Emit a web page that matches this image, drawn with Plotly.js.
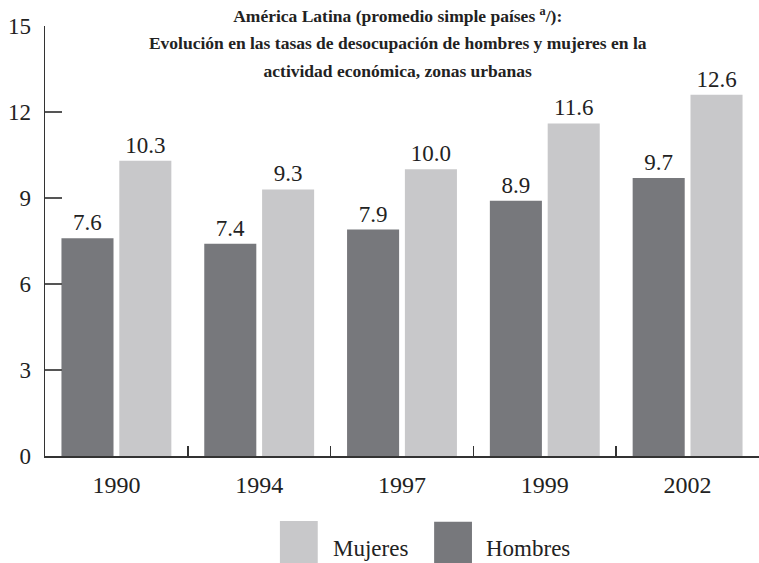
<!DOCTYPE html>
<html><head><meta charset="utf-8">
<script src="https://cdn.plot.ly/plotly-3.0.1.min.js"></script>
<style>body{margin:0;background:#fff}</style>
</head><body>
<div id="chart" style="width:759px;height:563px"></div>
<script>
const years = ["1990", "1994", "1997", "1999", "2002"];
const hombres = [7.6, 7.4, 7.9, 8.9, 9.7];
const mujeres = [10.3, 9.3, 10.0, 11.6, 12.6];
const yTicks = [0, 3, 6, 9, 12, 15];
const titleLines = [
  "América Latina (promedio simple países <sup>a</sup>/):",
  "Evolución en las tasas de desocupación de hombres y mujeres en la",
  "actividad económica, zonas urbanas"
];

const serif = "Liberation Serif";
const cH = "#77787c", cM = "#c8c8ca";

const traces = [
  {type: "bar", name: "Hombres", x: years, y: hombres, marker: {color: cH},
   text: hombres.map(v => v.toFixed(1)), textposition: "outside", cliponaxis: false,
   textfont: {family: serif, size: 23, color: "#222"}, showlegend: false},
  {type: "bar", name: "Mujeres", x: years, y: mujeres, marker: {color: cM},
   text: mujeres.map(v => v.toFixed(1)), textposition: "outside", cliponaxis: false,
   textfont: {family: serif, size: 23, color: "#222"}, showlegend: false}
];

const titleHtml = titleLines.map(l => '<span style="font-size:17.5px"><b>' + l + '</b></span>').join("<br>");

const layout = {
  width: 759, height: 563,
  margin: {l: 45, r: 0, t: 26, b: 107},
  paper_bgcolor: "#fff", plot_bgcolor: "#fff",
  font: {family: serif, color: "#222"},
  barmode: "group", bargap: 0.19, bargroupgap: 0.1,
  title: {text: titleHtml, x: 0.524, xanchor: "center",
          y: 1 - 22 / 563, yanchor: "middle", yref: "container",
          font: {family: serif, size: 21, color: "#222"}},
  xaxis: {type: "category", range: [-0.5, 4.5], showline: true, linecolor: "#333", linewidth: 1.5,
          ticks: "inside", tickson: "boundaries", ticklen: 10, tickcolor: "#333", tickwidth: 1.5,
          showgrid: false, zeroline: false,
          tickfont: {family: serif, size: 24, color: "#222"}, ticklabelstandoff: 7},
  yaxis: {range: [0, 15], tickvals: yTicks, showline: true, linecolor: "#333", linewidth: 1.5,
          ticks: "inside", ticklen: 17, tickcolor: "#555", tickwidth: 1.5,
          showgrid: false, zeroline: false,
          tickfont: {family: serif, size: 23, color: "#222"}, ticklabelstandoff: 8},
  shapes: [
    {type: "rect", xref: "paper", yref: "paper", x0: 0.329, x1: 0.382, y0: -0.151, y1: -0.26,
     fillcolor: cM, line: {width: 0}},
    {type: "rect", xref: "paper", yref: "paper", x0: 0.545, x1: 0.598, y0: -0.153, y1: -0.26,
     fillcolor: cH, line: {width: 0}}
  ],
  annotations: [
    {xref: "paper", yref: "paper", x: 0.4, y: -0.216, xanchor: "left", yanchor: "middle",
     text: "Mujeres", showarrow: false, font: {family: serif, size: 23, color: "#222"}},
    {xref: "paper", yref: "paper", x: 0.615, y: -0.216, xanchor: "left", yanchor: "middle",
     text: "Hombres", showarrow: false, font: {family: serif, size: 23, color: "#222"}}
  ]
};

Plotly.newPlot("chart", traces, layout, {displayModeBar: false, staticPlot: true});
</script>
</body></html>
